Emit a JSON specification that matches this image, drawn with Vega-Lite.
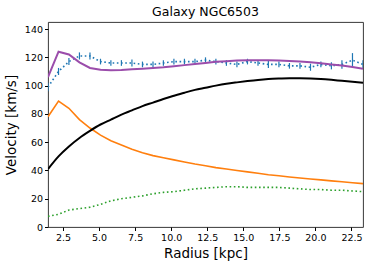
{
  "$schema": "https://vega.github.io/schema/vega-lite/v6.json",
  "width": 315,
  "height": 205,
  "autosize": {"type": "none"},
  "padding": {"left": 48, "top": 22, "right": 11, "bottom": 39},
  "title": {"text": "Galaxy NGC6503", "font": "DejaVu Sans", "fontSize": 12.5, "fontWeight": "normal", "color": "#000", "offset": 4},
  "config": {
    "view": {"stroke": "#222", "strokeWidth": 0.9},
    "axis": {"domain": false, "grid": false, "tickColor": "#000", "tickSize": 3.5, "labelOverlap": false, "labelFont": "DejaVu Sans", "labelFontSize": 9.5, "labelColor": "#000", "titleFont": "DejaVu Sans", "titleFontSize": 13.5, "titleFontWeight": "normal", "titleColor": "#000"},
    "axisY": {"values": [0, 20, 40, 60, 80, 100, 120, 140], "tickCount": 8, "titlePadding": 6, "labelFlush": false}
  },
  "data": {"values": [
    {"r": 1.46, "vobs": 99, "elo": 96, "ehi": 102, "vtot": 106, "vhalo": 41, "vdisk": 78, "vgas": 7.5},
    {"r": 2.19, "vobs": 110, "elo": 107.5, "ehi": 112.5, "vtot": 124, "vhalo": 50, "vdisk": 89, "vgas": 9},
    {"r": 2.91, "vobs": 117, "elo": 114.5, "ehi": 119.5, "vtot": 122, "vhalo": 57, "vdisk": 84, "vgas": 12},
    {"r": 3.64, "vobs": 121, "elo": 118.5, "ehi": 123.5, "vtot": 116.5, "vhalo": 63, "vdisk": 76, "vgas": 13},
    {"r": 4.37, "vobs": 121, "elo": 118.5, "ehi": 123.5, "vtot": 112.5, "vhalo": 68, "vdisk": 70, "vgas": 14},
    {"r": 5.10, "vobs": 117, "elo": 115, "ehi": 119, "vtot": 111.2, "vhalo": 72.5, "vdisk": 65, "vgas": 16},
    {"r": 5.82, "vobs": 116, "elo": 114, "ehi": 118, "vtot": 110.8, "vhalo": 76, "vdisk": 61, "vgas": 18.5},
    {"r": 6.55, "vobs": 116, "elo": 114, "ehi": 118, "vtot": 111, "vhalo": 79.5, "vdisk": 58, "vgas": 20},
    {"r": 7.28, "vobs": 116, "elo": 113.5, "ehi": 118.5, "vtot": 111.5, "vhalo": 82.5, "vdisk": 55, "vgas": 21},
    {"r": 8.01, "vobs": 115, "elo": 113, "ehi": 117, "vtot": 112, "vhalo": 85.5, "vdisk": 52.5, "vgas": 22},
    {"r": 8.74, "vobs": 115, "elo": 113, "ehi": 117, "vtot": 112.5, "vhalo": 88, "vdisk": 50.5, "vgas": 23.5},
    {"r": 9.46, "vobs": 116, "elo": 114, "ehi": 118, "vtot": 113, "vhalo": 90.5, "vdisk": 49, "vgas": 24.5},
    {"r": 10.19, "vobs": 117, "elo": 115, "ehi": 119, "vtot": 113.7, "vhalo": 92.8, "vdisk": 47.5, "vgas": 25},
    {"r": 10.92, "vobs": 117, "elo": 115, "ehi": 119, "vtot": 114.5, "vhalo": 95, "vdisk": 46, "vgas": 26},
    {"r": 11.65, "vobs": 117, "elo": 115, "ehi": 119, "vtot": 115.3, "vhalo": 97, "vdisk": 44.5, "vgas": 27},
    {"r": 12.38, "vobs": 118, "elo": 116, "ehi": 120, "vtot": 116, "vhalo": 98.5, "vdisk": 43.3, "vgas": 27.5},
    {"r": 13.10, "vobs": 117, "elo": 115, "ehi": 119, "vtot": 116.8, "vhalo": 100, "vdisk": 42, "vgas": 28},
    {"r": 13.83, "vobs": 116, "elo": 114, "ehi": 118, "vtot": 117.3, "vhalo": 101.3, "vdisk": 41, "vgas": 28.5},
    {"r": 14.56, "vobs": 115, "elo": 113, "ehi": 117, "vtot": 117.7, "vhalo": 102.3, "vdisk": 40, "vgas": 28.5},
    {"r": 15.29, "vobs": 117, "elo": 115, "ehi": 119, "vtot": 118, "vhalo": 103.2, "vdisk": 39, "vgas": 28},
    {"r": 16.02, "vobs": 116, "elo": 114, "ehi": 118, "vtot": 118, "vhalo": 104, "vdisk": 38, "vgas": 28},
    {"r": 16.74, "vobs": 115, "elo": 112.5, "ehi": 117.5, "vtot": 118, "vhalo": 104.6, "vdisk": 37, "vgas": 28},
    {"r": 17.47, "vobs": 115, "elo": 113, "ehi": 117, "vtot": 117.8, "vhalo": 105, "vdisk": 36.2, "vgas": 28},
    {"r": 18.20, "vobs": 114, "elo": 112, "ehi": 116, "vtot": 117.5, "vhalo": 105.3, "vdisk": 35.4, "vgas": 27.5},
    {"r": 18.93, "vobs": 114, "elo": 112, "ehi": 116, "vtot": 117, "vhalo": 105.3, "vdisk": 34.7, "vgas": 27},
    {"r": 19.66, "vobs": 113, "elo": 110.5, "ehi": 115.5, "vtot": 116.5, "vhalo": 105.1, "vdisk": 34, "vgas": 26.5},
    {"r": 20.38, "vobs": 115, "elo": 113, "ehi": 117, "vtot": 115.8, "vhalo": 104.7, "vdisk": 33.3, "vgas": 26.5},
    {"r": 21.11, "vobs": 114, "elo": 111.5, "ehi": 116.5, "vtot": 115, "vhalo": 104.1, "vdisk": 32.6, "vgas": 26},
    {"r": 21.84, "vobs": 115, "elo": 112, "ehi": 118, "vtot": 114.2, "vhalo": 103.4, "vdisk": 32, "vgas": 26},
    {"r": 22.57, "vobs": 118, "elo": 113, "ehi": 123, "vtot": 113.2, "vhalo": 102.7, "vdisk": 31.3, "vgas": 25.5},
    {"r": 23.30, "vobs": 115, "elo": 112, "ehi": 118, "vtot": 112, "vhalo": 102, "vdisk": 30.7, "vgas": 25}
  ]},
  "encoding": {
    "x": {"field": "r", "type": "quantitative", "scale": {"domain": [1.46, 23.3], "nice": false, "zero": false}, "axis": {"title": "Radius [kpc]", "values": [2.5, 5, 7.5, 10, 12.5, 15, 17.5, 20, 22.5], "format": ".1f", "titlePadding": 4, "labelOverlap": false}}
  },
  "layer": [
    {"mark": {"type": "rule", "color": "#1f77b4", "strokeWidth": 1.2, "clip": true},
     "encoding": {"y": {"field": "elo", "type": "quantitative", "scale": {"domain": [0, 145], "nice": false}, "title": "Velocity [km/s]"}, "y2": {"field": "ehi"}}},
    {"mark": {"type": "line", "color": "#1f77b4", "strokeWidth": 1.6, "strokeDash": [1.6, 2.6], "clip": true},
     "encoding": {"y": {"field": "vobs", "type": "quantitative", "title": "Velocity [km/s]"}}},
    {"mark": {"type": "line", "color": "#ff7f0e", "strokeWidth": 1.6, "clip": true},
     "encoding": {"y": {"field": "vdisk", "type": "quantitative", "title": "Velocity [km/s]"}}},
    {"mark": {"type": "line", "color": "#2ca02c", "strokeWidth": 1.6, "strokeDash": [1.6, 2.6], "clip": true},
     "encoding": {"y": {"field": "vgas", "type": "quantitative", "title": "Velocity [km/s]"}}},
    {"mark": {"type": "line", "color": "#000000", "strokeWidth": 2, "interpolate": "monotone", "clip": true},
     "encoding": {"y": {"field": "vhalo", "type": "quantitative", "title": "Velocity [km/s]"}}},
    {"mark": {"type": "line", "color": "#9b4dab", "strokeWidth": 2, "clip": true},
     "encoding": {"y": {"field": "vtot", "type": "quantitative", "title": "Velocity [km/s]"}}}
  ]
}
